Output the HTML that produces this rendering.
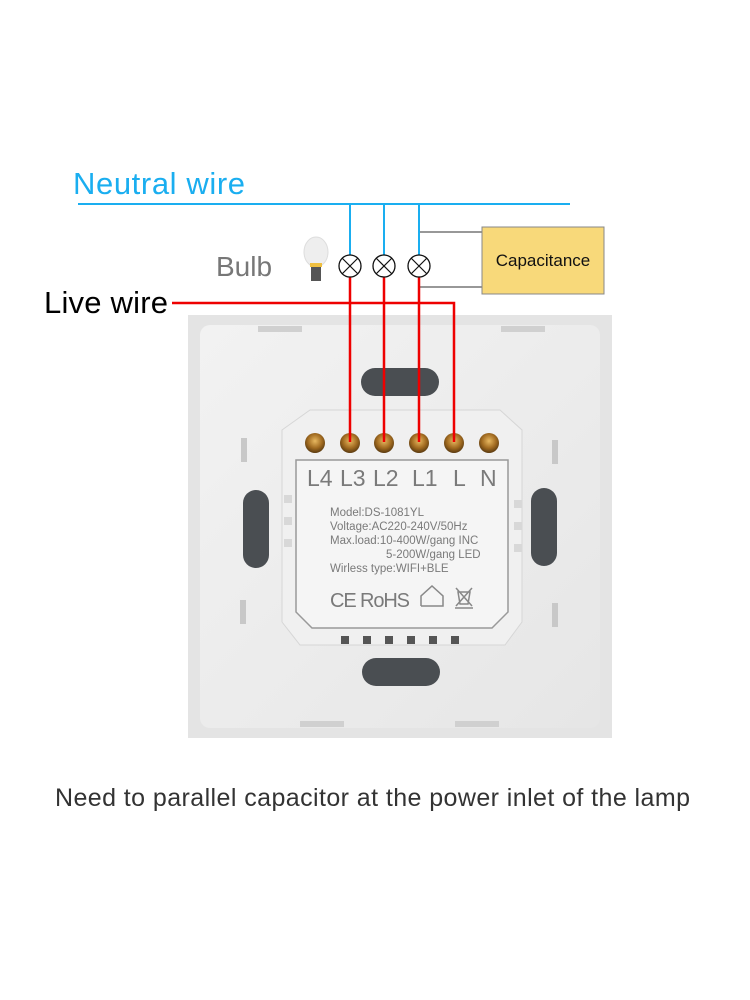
<!DOCTYPE html>
<html><head><meta charset="utf-8"><style>
body{margin:0;background:#fff;}
svg{display:block;font-family:"Liberation Sans",sans-serif;}
</style></head><body>
<svg width="750" height="1000" viewBox="0 0 750 1000">
<defs>
<linearGradient id="pg" x1="0" y1="0" x2="1" y2="1"><stop offset="0" stop-color="#f2f2f2"/><stop offset="1" stop-color="#e6e6e6"/></linearGradient>
<radialGradient id="sc" cx="0.5" cy="0.4" r="0.6"><stop offset="0" stop-color="#e8b860"/><stop offset="0.6" stop-color="#a06a20"/><stop offset="1" stop-color="#5a3a10"/></radialGradient>
</defs>
<rect x="188" y="315" width="424" height="423" fill="#e4e4e4"/>
<rect x="200" y="325" width="400" height="403" rx="10" fill="url(#pg)"/>
<rect x="258" y="326" width="44" height="6" fill="#d0d0d0"/>
<rect x="501" y="326" width="44" height="6" fill="#d0d0d0"/>
<rect x="300" y="721" width="44" height="6" fill="#d0d0d0"/>
<rect x="455" y="721" width="44" height="6" fill="#d0d0d0"/>
<rect x="361" y="368" width="78" height="28" rx="14" fill="#4a4e52"/>
<rect x="362" y="658" width="78" height="28" rx="14" fill="#4a4e52"/>
<rect x="243" y="490" width="26" height="78" rx="13" fill="#4a4e52"/>
<rect x="531" y="488" width="26" height="78" rx="13" fill="#4a4e52"/>
<rect x="241" y="438" width="6" height="24" fill="#c8c8c8"/>
<rect x="240" y="600" width="6" height="24" fill="#c8c8c8"/>
<rect x="552" y="440" width="6" height="24" fill="#c8c8c8"/>
<rect x="552" y="603" width="6" height="24" fill="#c8c8c8"/>
<polygon points="310,410 500,410 522,430 522,622 505,645 300,645 282,622 282,430" fill="#f0f0f0" stroke="#d6d6d6"/>
<polygon points="296,460 508,460 508,612 492,628 312,628 296,612" fill="#f5f5f5" stroke="#999" stroke-width="1.5"/>
<g fill="#d8d8d8"><rect x="284" y="495" width="8" height="8"/><rect x="284" y="517" width="8" height="8"/><rect x="284" y="539" width="8" height="8"/>
<rect x="514" y="500" width="8" height="8"/><rect x="514" y="522" width="8" height="8"/><rect x="514" y="544" width="8" height="8"/></g>
<g fill="#555"><rect x="341" y="636" width="8" height="8"/><rect x="363" y="636" width="8" height="8"/><rect x="385" y="636" width="8" height="8"/><rect x="407" y="636" width="8" height="8"/><rect x="429" y="636" width="8" height="8"/><rect x="451" y="636" width="8" height="8"/></g>
<g fill="url(#sc)"><circle cx="315" cy="443" r="10"/><circle cx="350" cy="443" r="10"/><circle cx="384" cy="443" r="10"/><circle cx="419" cy="443" r="10"/><circle cx="454" cy="443" r="10"/><circle cx="489" cy="443" r="10"/></g>
<g font-size="23" fill="#7a7a7a"><text x="307" y="486">L4</text><text x="340" y="486">L3</text><text x="373" y="486">L2</text><text x="412" y="486">L1</text><text x="453" y="486">L</text><text x="480" y="486">N</text></g>
<g font-size="11.5" fill="#7a7a7a"><text x="330" y="516">Model:DS-1081YL</text><text x="330" y="530">Voltage:AC220-240V/50Hz</text><text x="330" y="544">Max.load:10-400W/gang  INC</text><text x="386" y="558">5-200W/gang  LED</text><text x="330" y="572">Wirless type:WIFI+BLE</text></g>
<text x="330" y="607" font-size="20" fill="#7a7a7a" textLength="80">CE RoHS</text>
<polyline points="421,606 421,596 432,586 443,596 443,606 421,606" fill="none" stroke="#888" stroke-width="1.5"/>
<g stroke="#888" stroke-width="1.5" fill="none"><path d="M456,588 L472,606 M472,588 L456,606 M458,592 h12 l-2,12 h-8z"/><line x1="455" y1="608" x2="473" y2="608"/></g>
<line x1="78" y1="204" x2="570" y2="204" stroke="#1aaef0" stroke-width="2"/>
<g stroke="#1aaef0" stroke-width="2"><line x1="350" y1="204" x2="350" y2="255"/><line x1="384" y1="204" x2="384" y2="255"/><line x1="419" y1="204" x2="419" y2="255"/></g>
<g stroke="#777" stroke-width="1.5"><line x1="420" y1="232" x2="483" y2="232"/><line x1="420" y1="287" x2="483" y2="287"/></g>
<rect x="482" y="227" width="122" height="67" fill="#f8d97a" stroke="#888" stroke-width="1"/>
<text x="543" y="266" font-size="17" text-anchor="middle" fill="#111">Capacitance</text>
<g stroke="#e00" stroke-width="2.5" fill="none"><line x1="350" y1="277" x2="350" y2="442"/><line x1="384" y1="277" x2="384" y2="442"/><line x1="419" y1="277" x2="419" y2="442"/><polyline points="172,303 454,303 454,442"/></g>
<g stroke="#111" stroke-width="1.3" fill="#fff"><circle cx="350" cy="266" r="11"/><circle cx="384" cy="266" r="11"/><circle cx="419" cy="266" r="11"/></g>
<g stroke="#111" stroke-width="1.2"><path d="M342,258 L358,274 M358,258 L342,274"/><path d="M376,258 L392,274 M392,258 L376,274"/><path d="M411,258 L427,274 M427,258 L411,274"/></g>
<ellipse cx="316" cy="252" rx="12" ry="15" fill="#eee" stroke="#ddd"/>
<rect x="310" y="263" width="12" height="4" fill="#f0c040"/>
<rect x="311" y="267" width="10" height="14" fill="#555"/>
<text x="73" y="194" font-size="31" fill="#1aaef0" textLength="172">Neutral wire</text>
<text x="216" y="276" font-size="28" fill="#777">Bulb</text>
<text x="44" y="313" font-size="31" fill="#000" textLength="124">Live wire</text>
<text x="55" y="806" font-size="25" fill="#333" textLength="635">Need to parallel capacitor at the power inlet of the lamp</text>
</svg>
</body></html>
